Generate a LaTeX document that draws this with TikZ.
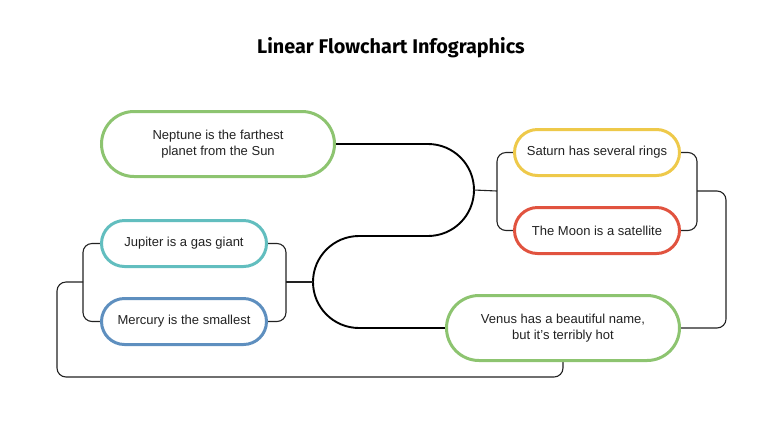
\documentclass[tikz,border=0pt]{standalone}
\usepackage{fontspec}
\setmainfont{Liberation Sans}
\newfontfamily\titlefont{Fira Sans}
\usetikzlibrary{shapes.misc,backgrounds}
\definecolor{pgreen}{HTML}{8DC470}
\definecolor{pteal}{HTML}{62BEBF}
\definecolor{pblue}{HTML}{5E8FBF}
\definecolor{pyellow}{HTML}{EEC94A}
\definecolor{pred}{HTML}{E1533F}
\definecolor{ink}{HTML}{222222}
\begin{document}
\begin{tikzpicture}[
  x=1pt, y=1pt,
  every node/.style = {align=center, text=ink,
    font=\fontsize{13}{16.5}\selectfont},
  pill/.style = {rounded rectangle, draw=#1, line width=3pt, fill=white,
    minimum width=165pt, minimum height=46pt, inner sep=0pt},
  bigpill/.style = {pill=#1, minimum width=233pt, minimum height=65pt},
  link/.style = {draw=ink, line width=1.1pt, rounded corners=9pt},
  mainlink/.style = {draw=black, line width=1.9pt}]
  \useasboundingbox (0,0) rectangle (783,-440);
  \node[text=black, font=\titlefont\bfseries\fontsize{19.8}{24}\selectfont]
    (title) at (391,-48) {Linear Flowchart Infographics};
  \node[bigpill=pgreen] (neptune) at (218,-144)
    {Neptune is the farthest\\planet from the Sun};
  \node[pill=pteal] (jupiter) at (184,-243.5) {Jupiter is a gas giant};
  \node[pill=pblue] (mercury) at (184,-321.5) {Mercury is the smallest};
  \node[pill=pyellow] (saturn) at (597,-152.5) {Saturn has several rings};
  \node[pill=pred] (moon) at (597,-230.5) {The Moon is a satellite};
  \node[bigpill=pgreen] (venus) at (563,-328)
    {Venus has a beautiful name,\\but it’s terribly hot};
  \coordinate (sright) at (474,-190);
  \coordinate (sleft) at (313,-282);
  \coordinate (satl) at (497,-191);
  \coordinate (satr) at (697,-191);
  \coordinate (jupl) at (83,-282);
  \coordinate (jupr) at (286,-282);
  \begin{scope}[on background layer]
    \draw[mainlink] (neptune.east) -- (428,-144)
      arc[start angle=90, end angle=-90, radius=46] -- (359,-236)
      arc[start angle=90, end angle=270, radius=46] -- (venus.west);
    \draw[link] (sright) -- (satl);
    \draw[link] (saturn.west) -| (satl) |- (moon.west);
    \draw[link] (saturn.east) -| (satr) |- (moon.east);
    \draw[link] (satr) -- ++(29,0) |- (venus.east);
    \draw[link] (jupiter.east) -| (jupr) |- (mercury.east);
    \draw[link] (jupr) -- (sleft);
    \draw[link] (jupiter.west) -| (jupl) |- (mercury.west);
    \draw[link] (jupl) -- ++(-26,0) -- ++(0,-95) -| (venus.south);
  \end{scope}
\end{tikzpicture}
\end{document}
